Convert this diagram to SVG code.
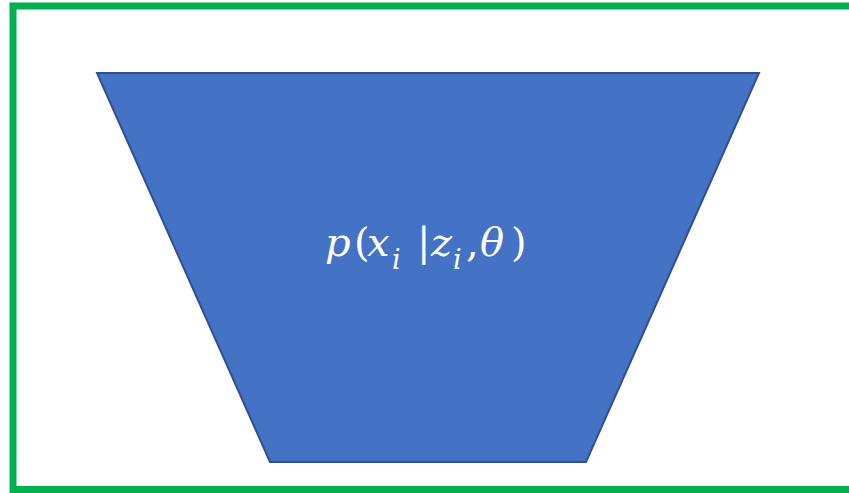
<svg xmlns="http://www.w3.org/2000/svg" width="849" height="493" viewBox="0 0 849 493">
<style>
.frame{fill:none;stroke:#00B050;stroke-width:7}
.shape{fill:#4472C4;stroke:#2F528F;stroke-width:2}
.lbl{font-family:"DejaVu Serif","Liberation Serif",serif;font-style:italic;font-size:40px;fill:#FFFFFF}
.up{font-style:normal;font-size:40px}
.sub{font-size:27px}
</style>
<rect class="frame" x="13" y="6" width="850" height="483.5"/>
<g id="decoder">
<polygon class="shape" points="97,73 759,73 586,462 270,462"/>
<text class="lbl" y="256"><tspan x="325">p</tspan><tspan class="up" x="354">(</tspan><tspan x="367">x</tspan><tspan class="sub" x="392" y="269">i</tspan><tspan class="up" x="417" y="256">|</tspan><tspan x="431">z</tspan><tspan class="sub" x="453" y="269">i</tspan><tspan class="up" x="466" y="256">,</tspan><tspan x="480">θ</tspan><tspan class="up" x="511">)</tspan></text>
</g>
<g id="connectors"/>
</svg>
